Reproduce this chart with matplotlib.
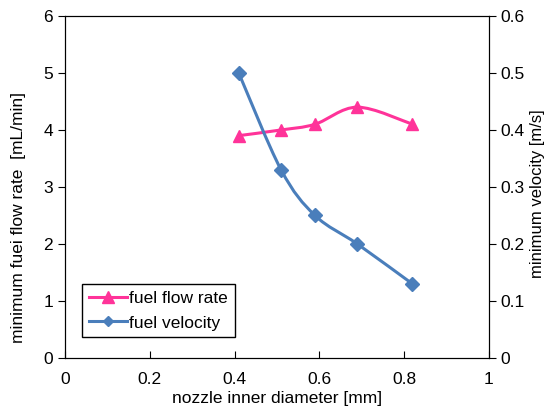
import numpy as np
import matplotlib.pyplot as plt
from matplotlib.path import Path
from matplotlib.patches import PathPatch
from matplotlib.lines import Line2D

plt.rcParams['font.family'] = ['Liberation Sans', 'DejaVu Sans']

diameter = [0.41, 0.51, 0.59, 0.69, 0.82]
flow_rate = [3.9, 4.0, 4.1, 4.4, 4.1]
velocity = [0.50, 0.33, 0.25, 0.20, 0.13]

pink = '#FF3399'
blue = '#4A7EBB'


def smooth_path(x, y):
    # excel-style smoothed line: catmull-rom turned into cubic beziers
    pts = np.column_stack([x, y])
    verts = [pts[0]]
    codes = [Path.MOVETO]
    n = len(pts)
    for i in range(n - 1):
        p0 = pts[i - 1] if i > 0 else pts[i]
        p1 = pts[i]
        p2 = pts[i + 1]
        p3 = pts[i + 2] if i + 2 < n else pts[i + 1]
        c1 = p1 + (p2 - p0) / 6
        c2 = p2 - (p3 - p1) / 6
        verts += [c1, c2, p2]
        codes += [Path.CURVE4] * 3
    return Path(verts, codes)


fig = plt.figure(figsize=(5.51, 4.08), dpi=100)
ax = fig.add_axes([0.118, 0.1225, 0.769, 0.8385])
ax2 = ax.twinx()

ax.add_patch(PathPatch(smooth_path(diameter, flow_rate), fill=False, edgecolor=pink, lw=2.2))
ax.plot(diameter, flow_rate, ls='none', marker='^', ms=9, color=pink)

ax2.add_patch(PathPatch(smooth_path(diameter, velocity), fill=False, edgecolor=blue, lw=2.2))
ax2.plot(diameter, velocity, ls='none', marker='D', ms=7, color=blue)

ax.set_xlim(0, 1)
ax.set_ylim(0, 6)
ax2.set_ylim(0, 0.6)
ax.set_xticks([0, 0.2, 0.4, 0.6, 0.8, 1])
ax.set_xticklabels(['0', '0.2', '0.4', '0.6', '0.8', '1'])
ax.set_yticks(range(7))
ax2.set_yticks([0, 0.1, 0.2, 0.3, 0.4, 0.5, 0.6])
ax2.set_yticklabels(['0', '0.1', '0.2', '0.3', '0.4', '0.5', '0.6'])

ax.tick_params(axis='x', direction='in', length=5, labelsize=12.5, pad=10)
ax.tick_params(axis='y', direction='out', length=5, labelsize=12.5)
ax2.tick_params(axis='y', direction='out', length=5, labelsize=12.5)

ax.set_xlabel('nozzle inner diameter [mm]', fontsize=12.5, labelpad=3)
ax.set_ylabel('minimum fuei flow rate  [mL/min]', fontsize=12.5)
ax.yaxis.set_label_coords(-0.092, 0.41)
ax2.set_ylabel('minimum velocity [m/s]', fontsize=12)
ax2.yaxis.set_label_coords(1.098, 0.48)

handles = [
    Line2D([], [], color=pink, lw=2.2, marker='^', ms=8),
    Line2D([], [], color=blue, lw=2.2, marker='D', ms=5.5),
]
ax.legend(handles, ['fuel flow rate', 'fuel velocity'], loc='lower left',
          bbox_to_anchor=(0.04, 0.06), fancybox=False, edgecolor='black',
          framealpha=1, fontsize=12.5, handlelength=2.2, handletextpad=0.1,
          borderpad=0.4, labelspacing=0.55, borderaxespad=0)

fig.savefig('out.png', dpi=100)
